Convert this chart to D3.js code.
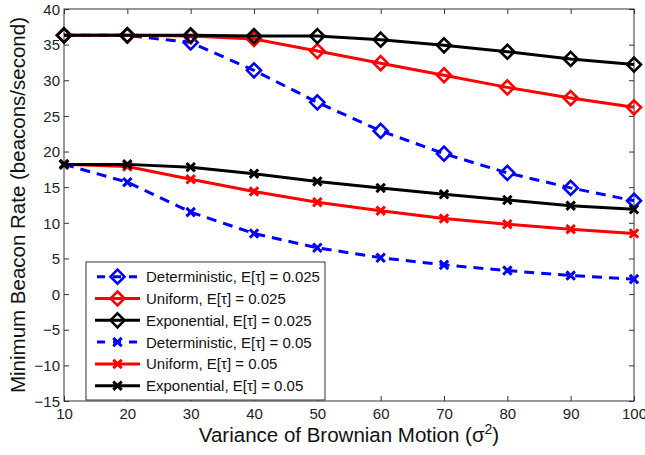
<!DOCTYPE html>
<html><head><meta charset="utf-8">
<script src="https://cdn.jsdelivr.net/npm/d3@7"></script>
<style>body{margin:0;background:#fff}svg{display:block;font-family:"Liberation Sans",Arial,Helvetica,sans-serif}</style>
</head><body><svg id="c" width="645" height="455"></svg>
<script>
const xValues = [10,20,30,40,50,60,70,80,90,100];
const detDiamond = [36.3,36.3,35.3,31.4,26.9,22.9,19.7,17.0,14.9,13.1];
const uniDiamond = [36.3,36.3,36.2,35.8,34.1,32.4,30.7,29.0,27.5,26.2];
const expDiamond = [36.3,36.3,36.3,36.2,36.2,35.7,34.9,34.0,33.0,32.2];
const detCross = [18.2,15.7,11.5,8.5,6.5,5.1,4.1,3.3,2.6,2.1];
const uniCross = [18.2,17.9,16.1,14.4,12.9,11.7,10.6,9.8,9.1,8.5];
const expCross = [18.2,18.2,17.8,16.9,15.8,14.9,14.0,13.2,12.4,11.9];
const seriesNames = ["Deterministic, E[τ] = 0.025","Uniform, E[τ] = 0.025","Exponential, E[τ] = 0.025",
  "Deterministic, E[τ] = 0.05","Uniform, E[τ] = 0.05","Exponential, E[τ] = 0.05"];
const xTicks = [10,20,30,40,50,60,70,80,90,100];
const yTicks = [-15,-10,-5,0,5,10,15,20,25,30,35,40];

const series = [
  {name:seriesNames[0], values:detDiamond, color:"#0000ff", dash:true, marker:"diamond"},
  {name:seriesNames[1], values:uniDiamond, color:"#ff0000", dash:false, marker:"diamond"},
  {name:seriesNames[2], values:expDiamond, color:"#000000", dash:false, marker:"diamond"},
  {name:seriesNames[3], values:detCross, color:"#0000ff", dash:true, marker:"cross"},
  {name:seriesNames[4], values:uniCross, color:"#ff0000", dash:false, marker:"cross"},
  {name:seriesNames[5], values:expCross, color:"#000000", dash:false, marker:"cross"}
];

const L=64, R=634, T=9, B=401;
const svg = d3.select("#c");
const x = d3.scaleLinear().domain([10,100]).range([L,R]);
const y = d3.scaleLinear().domain([-15,40]).range([B,T]);
const axisColor="#333";

const gx = svg.append("g").attr("transform",`translate(0,${B})`)
  .call(d3.axisBottom(x).tickValues(xTicks).tickSizeInner(-5).tickSizeOuter(0).tickPadding(7).tickFormat(d3.format("d")));
const gxt = svg.append("g").attr("transform",`translate(0,${T})`)
  .call(d3.axisTop(x).tickValues(xTicks).tickSizeInner(-5).tickSizeOuter(0).tickFormat(""));
const gy = svg.append("g").attr("transform",`translate(${L},0)`)
  .call(d3.axisLeft(y).tickValues(yTicks).tickSizeInner(-5).tickSizeOuter(0).tickPadding(4).tickFormat(d=>d<0?"\u2212"+Math.abs(d):d));
const gyr = svg.append("g").attr("transform",`translate(${R},0)`)
  .call(d3.axisRight(y).tickValues(yTicks).tickSizeInner(-5).tickSizeOuter(0).tickFormat(""));
[gx,gxt,gy,gyr].forEach(g=>{
  g.select(".domain").remove();
  g.selectAll("line").attr("stroke",axisColor);
  g.selectAll("text").attr("fill","#222").style("font-size","15px").style("font-family","'Liberation Sans',Arial,sans-serif");
});
gy.selectAll("text").attr("dy","0.35em");
gx.selectAll("text").attr("dy","0.71em");
svg.append("rect").attr("x",L).attr("y",T).attr("width",R-L).attr("height",B-T)
  .attr("fill","none").attr("stroke",axisColor).attr("stroke-width",1);

svg.append("defs").append("clipPath").attr("id","pc").append("rect")
  .attr("x",L-10).attr("y",T-10).attr("width",R-L+20).attr("height",B-T+20);

const line = d3.line().x((d,i)=>x(xValues[i])).y(d=>y(d));
function drawMarker(g, kind, cx, cy, color){
  if(kind==="diamond"){
    const s=7;
    g.append("path").attr("d",`M${cx},${cy-s}L${cx+s},${cy}L${cx},${cy+s}L${cx-s},${cy}Z`)
      .attr("fill","none").attr("stroke",color).attr("stroke-width",2.6);
  } else {
    const s=4.2;
    g.append("path").attr("d",`M${cx-s},${cy-s}L${cx+s},${cy+s}M${cx-s},${cy+s}L${cx+s},${cy-s}`)
      .attr("fill","none").attr("stroke",color).attr("stroke-width",3);
  }
}
const plot = svg.append("g").attr("clip-path","url(#pc)");
series.forEach(s=>{
  const g = plot.append("g");
  g.append("path").datum(s.values).attr("d",line).attr("fill","none")
    .attr("stroke",s.color).attr("stroke-width",3)
    .attr("stroke-dasharray",s.dash?"10,7":null);
  s.values.forEach((v,i)=>drawMarker(g,s.marker,x(xValues[i]),y(v),s.color));
});

// legend
const lg = svg.append("g");
lg.append("rect").attr("x",86).attr("y",262).attr("width",239).attr("height",138)
  .attr("fill","#fff").attr("stroke",axisColor).attr("stroke-width",1);
series.forEach((s,i)=>{
  const cy = 276.7 + i*21.8;
  lg.append("line").attr("x1",95).attr("x2",140).attr("y1",cy).attr("y2",cy)
    .attr("stroke",s.color).attr("stroke-width",3).attr("stroke-dasharray",s.dash?"8,8":null)
    .attr("stroke-dashoffset",s.dash?-2:0);
  drawMarker(lg,s.marker,117.5,cy,s.color);
  lg.append("text").attr("x",146).attr("y",cy).attr("dy","0.36em")
    .style("font-size","15px").attr("fill","#111").text(s.name);
});

// axis titles
const xt = svg.append("text").attr("x",349).attr("y",442).attr("text-anchor","middle")
  .style("font-size","20.5px").attr("fill","#111");
xt.append("tspan").text("Variance of Brownian Motion (σ");
xt.append("tspan").attr("dy","-8").style("font-size","14px").text("2");
xt.append("tspan").attr("dy","8").text(")");
svg.append("text").attr("transform","translate(25,205) rotate(-90)").attr("text-anchor","middle")
  .style("font-size","20.5px").attr("fill","#111").text("Minimum Beacon Rate (beacons/second)");
</script></body></html>
